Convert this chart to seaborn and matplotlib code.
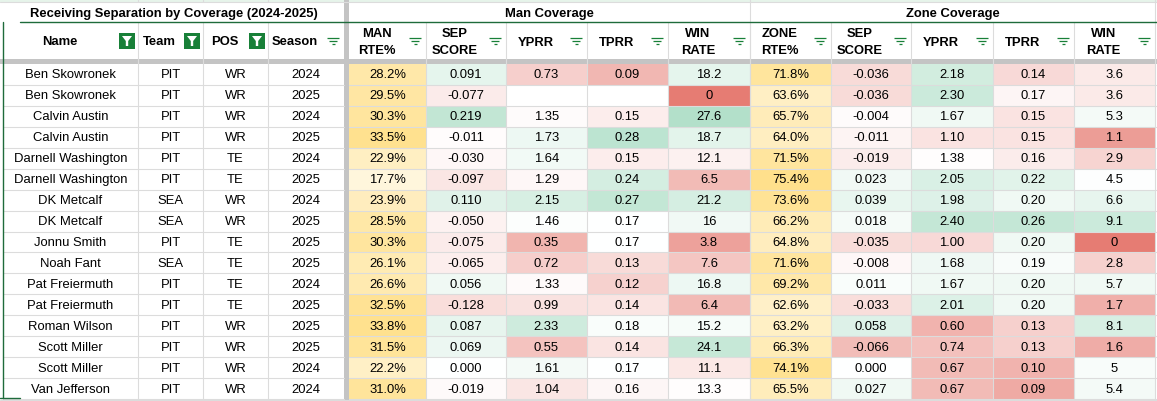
import numpy as np
import pandas as pd
import matplotlib
matplotlib.use("Agg")
import matplotlib.pyplot as plt
from matplotlib.colors import LinearSegmentedColormap, TwoSlopeNorm, Normalize
from matplotlib.patches import Rectangle, Polygon
import seaborn as sns

# table data
names = ["Ben Skowronek", "Ben Skowronek", "Calvin Austin", "Calvin Austin",
         "Darnell Washington", "Darnell Washington", "DK Metcalf", "DK Metcalf",
         "Jonnu Smith", "Noah Fant", "Pat Freiermuth", "Pat Freiermuth",
         "Roman Wilson", "Scott Miller", "Scott Miller", "Van Jefferson"]
teams = ["PIT", "PIT", "PIT", "PIT", "PIT", "PIT", "SEA", "SEA",
         "PIT", "SEA", "PIT", "PIT", "PIT", "PIT", "PIT", "PIT"]
positions = ["WR", "WR", "WR", "WR", "TE", "TE", "WR", "WR",
             "TE", "TE", "TE", "TE", "WR", "WR", "WR", "WR"]
seasons = [2024, 2025, 2024, 2025, 2024, 2025, 2024, 2025,
           2025, 2025, 2024, 2025, 2025, 2025, 2024, 2024]

man_rte = [28.2, 29.5, 30.3, 33.5, 22.9, 17.7, 23.9, 28.5, 30.3, 26.1, 26.6, 32.5, 33.8, 31.5, 22.2, 31.0]
man_sep = [0.091, -0.077, 0.219, -0.011, -0.030, -0.097, 0.110, -0.050, -0.075, -0.065, 0.056, -0.128, 0.087, 0.069, 0.000, -0.019]
man_yprr = [0.73, np.nan, 1.35, 1.73, 1.64, 1.29, 2.15, 1.46, 0.35, 0.72, 1.33, 0.99, 2.33, 0.55, 1.61, 1.04]
man_tprr = [0.09, np.nan, 0.15, 0.28, 0.15, 0.24, 0.27, 0.17, 0.17, 0.13, 0.12, 0.14, 0.18, 0.14, 0.17, 0.16]
man_win = [18.2, 0, 27.6, 18.7, 12.1, 6.5, 21.2, 16, 3.8, 7.6, 16.8, 6.4, 15.2, 24.1, 11.1, 13.3]
zone_rte = [71.8, 63.6, 65.7, 64.0, 71.5, 75.4, 73.6, 66.2, 64.8, 71.6, 69.2, 62.6, 63.2, 66.3, 74.1, 65.5]
zone_sep = [-0.036, -0.036, -0.004, -0.011, -0.019, 0.023, 0.039, 0.018, -0.035, -0.008, 0.011, -0.033, 0.058, -0.066, 0.000, 0.027]
zone_yprr = [2.18, 2.30, 1.67, 1.10, 1.38, 2.05, 1.98, 2.40, 1.00, 1.68, 1.67, 2.01, 0.60, 0.74, 0.67, 0.67]
zone_tprr = [0.14, 0.17, 0.15, 0.15, 0.16, 0.22, 0.20, 0.26, 0.20, 0.19, 0.20, 0.20, 0.13, 0.13, 0.10, 0.09]
zone_win = [3.6, 3.6, 5.3, 1.1, 2.9, 4.5, 6.6, 9.1, 0, 2.8, 5.7, 1.7, 8.1, 1.6, 5, 5.4]

text_headers = ["Name", "Team", "POS", "Season"]
num_headers = ["MAN\nRTE%", "SEP\nSCORE", "YPRR", "TPRR", "WIN\nRATE",
               "ZONE\nRTE%", "SEP\nSCORE", "YPRR", "TPRR", "WIN\nRATE"]
title = "Receiving Separation by Coverage (2024-2025)"
groups = ["Man Coverage", "Zone Coverage"]

sns.set_theme(style="white")
plt.rcParams["font.family"] = ["Liberation Sans", "DejaVu Sans"]

# sheet-like colour scales
rwg = LinearSegmentedColormap.from_list("rwg", ["#e67c73", "#ffffff", "#57bb8a"])
yel = LinearSegmentedColormap.from_list("yel", ["#ffffff", "#ffd666"])

def pct(v):
    return f"{v:.1f}%"

def three(v):
    return "" if np.isnan(v) else f"{v:.3f}"

def two(v):
    return "" if np.isnan(v) else f"{v:.2f}"

def gen(v):
    return f"{v:g}"

num_cols = [
    (man_rte, pct, yel, Normalize(10.4, 42)),
    (man_sep, three, rwg, TwoSlopeNorm(0.0, -0.5, 0.6)),
    (man_yprr, two, rwg, TwoSlopeNorm(1.4, -0.45, 4.6)),
    (man_tprr, two, rwg, TwoSlopeNorm(0.17, 0.025, 0.45)),
    (man_win, gen, rwg, TwoSlopeNorm(13.5, 0.0, 45)),
    (zone_rte, pct, yel, Normalize(50.8, 83.6)),
    (zone_sep, three, rwg, TwoSlopeNorm(0.0, -0.13, 0.29)),
    (zone_yprr, two, rwg, TwoSlopeNorm(1.4, 0.0, 4.3)),
    (zone_tprr, two, rwg, TwoSlopeNorm(0.18, 0.04, 0.41)),
    (zone_win, gen, rwg, TwoSlopeNorm(4.3, 0.0, 20)),
]

# layout in pixels
W, H = 1157, 402
text_edges = [3, 138, 203, 268, 344]
num_edges = [349, 426, 506, 587, 668, 750, 831, 911, 993, 1074, 1155]
y_title, y_head, y_band, y_data, y_end = 3, 23, 60, 65, 400
row_h = (y_end - y_data) / len(names)
grid = "#dcdcdc"
green = "#188038"
fs = 9.4

fig = plt.figure(figsize=(W / 100, H / 100), dpi=100)

for i, (vals, fmt, cmap, norm) in enumerate(num_cols):
    x0, x1 = num_edges[i], num_edges[i + 1]
    ax = fig.add_axes([x0 / W, 1 - y_end / H, (x1 - x0) / W, (y_end - y_data) / H])
    df = pd.DataFrame({"v": vals}, dtype=float)
    labels = np.array([fmt(v) for v in vals]).reshape(-1, 1)
    sns.heatmap(df, ax=ax, cmap=cmap, norm=norm, annot=labels, fmt="", cbar=False,
                xticklabels=False, yticklabels=False,
                annot_kws={"fontsize": fs, "color": "black"})
    ax.set_xlabel("")
    ax.set_ylabel("")

ov = fig.add_axes([0, 0, 1, 1])
ov.set_xlim(0, W)
ov.set_ylim(H, 0)
ov.axis("off")

# frozen rows strip on top
ov.add_patch(Rectangle((0, 0), W, y_title, color="#e6f4ea", lw=0))

# grid lines
for k in range(1, len(names) + 1):
    y = y_data + k * row_h
    ov.plot([3, 344], [y, y], color=grid, lw=0.8)
    ov.plot([349, W], [y, y], color=grid, lw=0.8)
for x in text_edges[1:4] + num_edges[1:-1]:
    ov.plot([x, x], [y_head, y_end], color=grid, lw=0.8)
for x in text_edges[1:4]:
    ov.plot([x, x], [0, y_title], color=grid, lw=0.8)
ov.plot([750, 750], [0, y_end], color=grid, lw=0.8)
ov.plot([1155, 1155], [0, H], color=grid, lw=0.8)
ov.plot([0, W], [y_title, y_title], color=grid, lw=0.8)
ov.plot([0, W], [y_end + 0.5, y_end + 0.5], color=grid, lw=0.8)

# thick frozen separators
ov.add_patch(Rectangle((344, 0), 5, H, color="#c4c4c4", lw=0))
ov.add_patch(Rectangle((0, y_band), W, y_data - y_band, color="#c4c4c4", lw=0))

# table border in green
ov.plot([20, W], [y_head, y_head], color="#1e6b3b", lw=1.0)
ov.plot([3, 3], [y_head, y_end - 1], color="#1e6b3b", lw=1.0)
ov.plot([0, 20], [y_end - 1, y_end - 1], color="#1e6b3b", lw=1.0)

# title row
ov.text((text_edges[0] + text_edges[-1]) / 2, (y_title + y_head) / 2 + 0.5, title,
        ha="center", va="center", fontsize=fs, fontweight="bold", color="black")
ov.text((349 + 750) / 2, (y_title + y_head) / 2 + 0.5, groups[0],
        ha="center", va="center", fontsize=fs, fontweight="bold", color="black")
ov.text((750 + 1155) / 2, (y_title + y_head) / 2 + 0.5, groups[1],
        ha="center", va="center", fontsize=fs, fontweight="bold", color="black")


def funnel_icon(cx, cy):
    ov.add_patch(Rectangle((cx - 8, cy - 8), 16, 16, color=green, lw=0))
    ov.add_patch(Polygon([(cx - 5, cy - 5), (cx + 5, cy - 5), (cx + 1.2, cy),
                          (cx + 1.2, cy + 5), (cx - 1.2, cy + 5), (cx - 1.2, cy)],
                         closed=True, color="white", lw=0))


def lines_icon(cx, cy):
    for dy, half in [(-2.8, 6), (0, 3.8), (2.8, 1.5)]:
        ov.plot([cx - half, cx + half], [cy + dy, cy + dy], color=green, lw=0.9,
                solid_capstyle="butt")


head_y = (y_head + y_band) / 2 + 0.5
for j, h in enumerate(text_headers):
    x0, x1 = text_edges[j], text_edges[j + 1]
    ov.text((x0 + x1 - 22) / 2, head_y, h, ha="center", va="center",
            fontsize=fs, fontweight="bold", color="black")
    if j < 3:
        funnel_icon(x1 - 11, head_y)
    else:
        lines_icon(x1 - 11, head_y)
for j, h in enumerate(num_headers):
    x0, x1 = num_edges[j], num_edges[j + 1]
    ov.text((x0 + x1 - 22) / 2, head_y + 0.5, h, ha="center", va="center",
            multialignment="center", linespacing=1.5,
            fontsize=fs, fontweight="bold", color="black")
    lines_icon(x1 - 11, head_y)

# text columns
for r in range(len(names)):
    y = y_data + (r + 0.5) * row_h
    for j, val in enumerate([names[r], teams[r], positions[r], seasons[r]]):
        x0, x1 = text_edges[j], text_edges[j + 1]
        ov.text((x0 + x1) / 2, y, str(val), ha="center", va="center",
                fontsize=fs, color="black")

fig.savefig("out.png", dpi=100)
